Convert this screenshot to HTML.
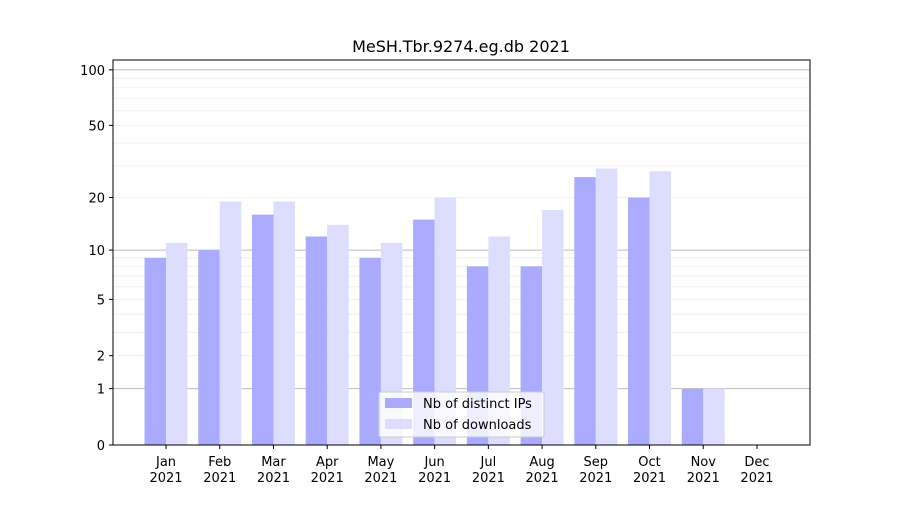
<!DOCTYPE html>
<html><head><meta charset="utf-8"><style>
body{margin:0;background:#fff;font-family:"Liberation Sans","DejaVu Sans",sans-serif;}
svg text{font-family:"DejaVu Sans","Liberation Sans",sans-serif;}
</style></head><body>
<svg id="chart" width="900" height="500" xmlns="http://www.w3.org/2000/svg">
<text x="461" y="52" text-anchor="middle" font-size="16" fill="#000">MeSH.Tbr.9274.eg.db 2021</text>
<g id="grid"></g><g id="bars"></g><g id="axes"></g>
<g>
<rect x="379" y="392" width="165" height="45" fill="#fff" fill-opacity="0.8" stroke="#ccc" rx="2"/>
<rect x="385" y="398" width="27" height="10" fill="#aaaaff"/>
<text x="423" y="408" font-size="13">Nb of distinct IPs</text>
<rect x="385" y="419" width="27" height="10" fill="#ddddff"/>
<text x="423" y="429" font-size="13">Nb of downloads</text>
</g>
</svg>
<script>
const months=["Jan","Feb","Mar","Apr","May","Jun","Jul","Aug","Sep","Oct","Nov","Dec"];
const ips=[9,10,16,12,9,15,8,8,26,20,1,0];
const downloads=[11,19,19,14,11,20,12,17,29,28,1,0];
const yTicks=[0,1,2,5,10,20,50,100];
const NS="http://www.w3.org/2000/svg";
const L=113,R=810,T=60,B=445;
const yMax=113;
function y(v){return B-(B-T)*Math.log10(1+v)/Math.log10(1+yMax);}
const step=(R-L)/(months.length-1+2*0.987);
function x(i){return L+step*(0.987+i);}
function mk(tag,attrs,parent){const e=document.createElementNS(NS,tag);for(const k in attrs)e.setAttribute(k,attrs[k]);parent.appendChild(e);return e;}
const grid=document.getElementById('grid'),bars=document.getElementById('bars'),axes=document.getElementById('axes');
// grid
[1,10,100].forEach(function(d){for(let m=1;m<10;m++){const v=d*m;if(v>yMax)continue;const major=(m===1);
const g=mk('line',{x1:L,x2:R,y1:y(v),y2:y(v),stroke:major?'#bbb':'#eee','stroke-width':major?1:0.8},grid);

}});
// bars
const bw=step*0.4;
months.forEach(function(m,i){
 const a=mk('rect',{x:x(i)-bw,y:y(ips[i]),width:bw,height:B-y(ips[i]),fill:'#aaaaff'},bars);
 
 
 const b=mk('rect',{x:x(i),y:y(downloads[i]),width:bw,height:B-y(downloads[i]),fill:'#ddddff'},bars);
 
 
 mk('line',{x1:x(i),x2:x(i),y1:B,y2:B+4,stroke:'#000'},axes);
 const t=mk('text',{x:x(i),y:B+21,'text-anchor':'middle','font-size':13},axes);
 t.textContent=m;
 
 
 const t2=mk('text',{x:x(i),y:B+37,'text-anchor':'middle','font-size':13},axes);
 t2.textContent='2021';
 
 
});
yTicks.forEach(function(v){
 mk('line',{x1:L-4,x2:L,y1:y(v),y2:y(v),stroke:'#000'},axes);
 const t=mk('text',{x:L-8,y:y(v)+5,'text-anchor':'end','font-size':13},axes);
 t.textContent=v;
 
 
});
const fr=mk('rect',{x:L,y:T,width:R-L,height:B-T,fill:'none',stroke:'#000','stroke-width':1},axes);


</script>
</body></html>
